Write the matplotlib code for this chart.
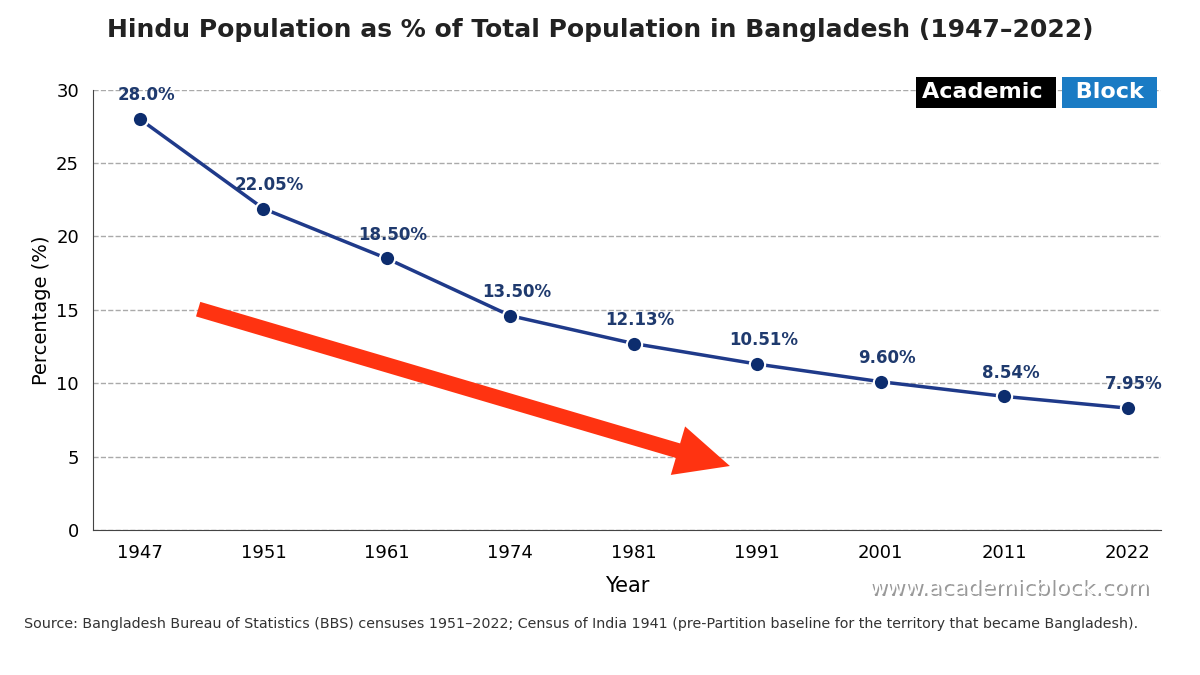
import matplotlib
matplotlib.use("Agg")
import matplotlib.pyplot as plt

years = ["1947", "1951", "1961", "1974", "1981", "1991", "2001", "2011", "2022"]
labels = ["28.0%", "22.05%", "18.50%", "13.50%", "12.13%", "10.51%", "9.60%", "8.54%", "7.95%"]
plotted = [28.0, 21.9, 18.5, 14.6, 12.7, 11.3, 10.1, 9.1, 8.3]

fig = plt.figure(figsize=(12, 6.75), dpi=100)
ax = fig.add_axes([0.0775, 0.215, 0.89, 0.652])
x = list(range(len(years)))
ax.plot(x, plotted, color="#1f3a8a", lw=2.5, marker="o", ms=11,
        markerfacecolor="#0d2d6e", markeredgecolor="white", markeredgewidth=1.5, zorder=3)
for xi, v, l in zip(x, plotted, labels):
    ax.text(xi + 0.05, v + 1.0, l, ha="center", va="bottom", fontsize=12, fontweight="bold", color="#1f3a6e")
ax.set_xlim(-0.38, 8.27)
ax.set_ylim(0, 30)
ax.set_yticks([0, 5, 10, 15, 20, 25, 30])
ax.set_xticks(x)
ax.set_xticklabels(years)
ax.tick_params(labelsize=13, length=0, pad=10)
ax.grid(axis="y", ls="--", color="#aaaaaa", lw=1)
ax.set_axisbelow(True)
for s in ["top", "right"]:
    ax.spines[s].set_visible(False)
for s in ["left", "bottom"]:
    ax.spines[s].set_color("#444444")
ax.set_xlabel("Year", fontsize=15, labelpad=10)
ax.set_ylabel("Percentage (%)", fontsize=14)
ax.annotate("", xy=(4.8, 4.3), xytext=(0.45, 15.1),
            arrowprops=dict(arrowstyle="simple,head_length=1.5,head_width=1.4,tail_width=0.42",
                            mutation_scale=26, color="#ff3311", lw=0), zorder=2)
fig.text(0.5, 0.955, "Hindu Population as % of Total Population in Bangladesh (1947–2022)",
         ha="center", va="center", fontsize=18, fontweight="bold", color="#222222")
fig.text(0.768, 0.863, "Academic ", fontsize=16, fontweight="bold", color="white",
         ha="left", va="center", bbox=dict(boxstyle="square,pad=0.25", fc="black", ec="none"))
fig.text(0.89, 0.863, " Block ", fontsize=16, fontweight="bold", color="white",
         ha="left", va="center", bbox=dict(boxstyle="square,pad=0.25", fc="#1a7bc4", ec="none"))
fig.text(0.959, 0.126, "www.academicblock.com", fontsize=16, color="#999999", ha="right", va="center")
fig.text(0.957, 0.129, "www.academicblock.com", fontsize=16, color="white", ha="right", va="center")
fig.text(0.02, 0.075, "Source: Bangladesh Bureau of Statistics (BBS) censuses 1951–2022; Census of India 1941 (pre-Partition baseline for the territory that became Bangladesh).",
         fontsize=10.3, color="#333333", ha="left", va="center")
fig.savefig("out.png", dpi=100)
